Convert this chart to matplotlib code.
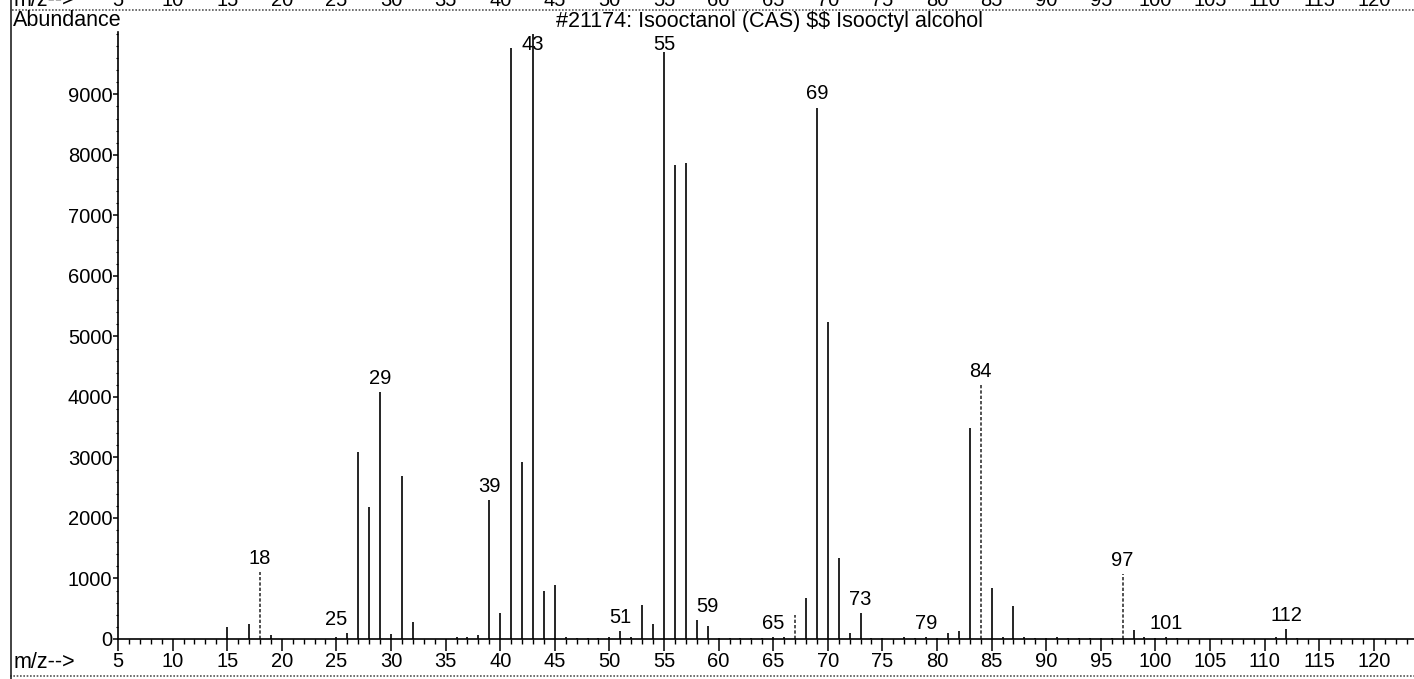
import matplotlib
matplotlib.use('Agg')
import matplotlib.pyplot as plt
from matplotlib.lines import Line2D
from matplotlib.ticker import MultipleLocator
import matplotlib.transforms as mtransforms

plt.rcParams['font.family'] = ['Liberation Sans', 'DejaVu Sans']

# ── Spectrum data ────────────────────────────────────────────────────────────
mz = [15, 17, 18, 19, 25, 26, 27, 28, 29, 30, 31, 32, 36, 37, 38, 39, 40,
      41, 42, 43, 44, 45, 46, 47, 48, 49, 50, 51, 52, 53, 54, 55, 56, 57,
      58, 59, 60, 61, 62, 63, 64, 65, 66, 67, 68, 69, 70, 71, 72, 73, 74,
      75, 77, 78, 79, 80, 81, 82, 83, 84, 85, 86, 87, 88, 89, 90, 91, 92,
      93, 94, 95, 96, 97, 98, 99, 100, 101, 102, 111, 112, 113]
abundance = [200, 250, 1100, 70, 30, 100, 3090, 2180, 4080, 80, 2690, 280,
             30, 40, 60, 2300, 430,
             9770, 2925, 10000, 800, 890, 30, 20, 20, 20, 40, 130, 30, 560,
             250, 9700, 7830, 7860,
             310, 215, 15, 15, 20, 20, 20, 30, 30, 400, 680, 8780, 5240, 1340,
             100, 430, 20,
             15, 30, 20, 30, 20, 100, 130, 3490, 4200, 840, 40, 550, 30, 20,
             20, 25, 20,
             20, 15, 15, 15, 1070, 150, 40, 15, 25, 15, 30, 160, 15]

# peaks printed as broken / dotted strokes in the scan
faint_mz = [18, 67, 84, 97]

# peaks carrying an m/z label
label_mz = [18, 25, 29, 39, 43, 51, 55, 59, 65, 69, 73, 79, 84, 97, 101, 112]

x_ticks = list(range(5, 121, 5))
y_ticks = list(range(0, 9001, 1000))

title = r"#21174: Isooctanol (CAS) \$\$ Isooctyl alcohol"

FS = 14.5
FS_CAP = 15.5
W, H = 1414, 679

fig = plt.figure(figsize=(W / 100, H / 100), dpi=100)
ax = fig.add_axes([118 / W, 40 / H, 1 - 118 / W, 607 / H])

heights = dict(zip(mz, abundance))
solid = [(m, a) for m, a in zip(mz, abundance) if m not in faint_mz]
faint = [(m, a) for m, a in zip(mz, abundance) if m in faint_mz]
ax.vlines([m for m, _ in solid], 0, [a for _, a in solid], color='black', lw=1.2)
ax.vlines([m for m, _ in faint], 0, [a for _, a in faint], color='#333333',
          lw=1.2, linestyles=(0, (2, 1.2)))

# peak labels sit just above the tallest of the peak and its neighbours
for m in label_mz:
    top = max(heights.get(m - 1, 0), heights.get(m, 0), heights.get(m + 1, 0))
    top = min(top, 9600)
    ax.annotate(str(m), (m, top), textcoords='offset points', xytext=(0, 3),
                ha='center', va='bottom', fontsize=FS)

ax.set_xlim(5, 5 + (W - 118) / 10.92)
ax.set_ylim(0, 10030)
ax.spines['top'].set_visible(False)
ax.spines['right'].set_visible(False)
for sp in ('left', 'bottom'):
    ax.spines[sp].set_linewidth(1.2)

ax.set_xticks(x_ticks)
ax.set_xticklabels([str(v) for v in x_ticks], fontsize=FS)
ax.xaxis.set_minor_locator(MultipleLocator(1))
ax.tick_params(axis='x', which='major', direction='out', length=8.5, width=1.1, pad=1)
ax.tick_params(axis='x', which='minor', direction='out', length=3.8, width=1.0)

ax.set_yticks(y_ticks)
ax.set_yticklabels([str(v) for v in y_ticks], fontsize=FS)
ax.yaxis.set_minor_locator(MultipleLocator(200))
ax.tick_params(axis='y', which='major', direction='out', length=3.5, width=1.1, pad=0.5)
ax.tick_params(axis='y', which='minor', direction='out', length=1.8, width=0.8)

# axis captions and title
fig.text(13 / W, 1 - 20 / H, 'Abundance', fontsize=FS_CAP, ha='left', va='center')
fig.text(14 / W, 17 / H, 'm/z-->', fontsize=FS_CAP, ha='left', va='center')
fig.text(770 / W, 1 - 21 / H, title, fontsize=FS_CAP, ha='center', va='center')

# bottom of the previous spectrum's axis labels, cut off by the page edge
trans = mtransforms.blended_transform_factory(ax.transData, fig.transFigure)
for v in x_ticks:
    fig.text(v, 1 - 6 / H, str(v), transform=trans, fontsize=FS,
             ha='center', va='baseline')
fig.text(14 / W, 1 - 6 / H, 'm/z-->', fontsize=FS_CAP, ha='left', va='baseline')

# page frame remnants from the scan
fig.add_artist(Line2D([12 / W, 1], [1 - 10 / H] * 2, transform=fig.transFigure,
                      color='#555555', lw=1.2, ls=(0, (1, 1))))
fig.add_artist(Line2D([10 / W, 1], [3 / H] * 2, transform=fig.transFigure,
                      color='#555555', lw=1.2, ls=(0, (1, 1))))
fig.add_artist(Line2D([11 / W] * 2, [0, 1], transform=fig.transFigure,
                      color='#222222', lw=1.2))

fig.savefig('out.png', dpi=100)
